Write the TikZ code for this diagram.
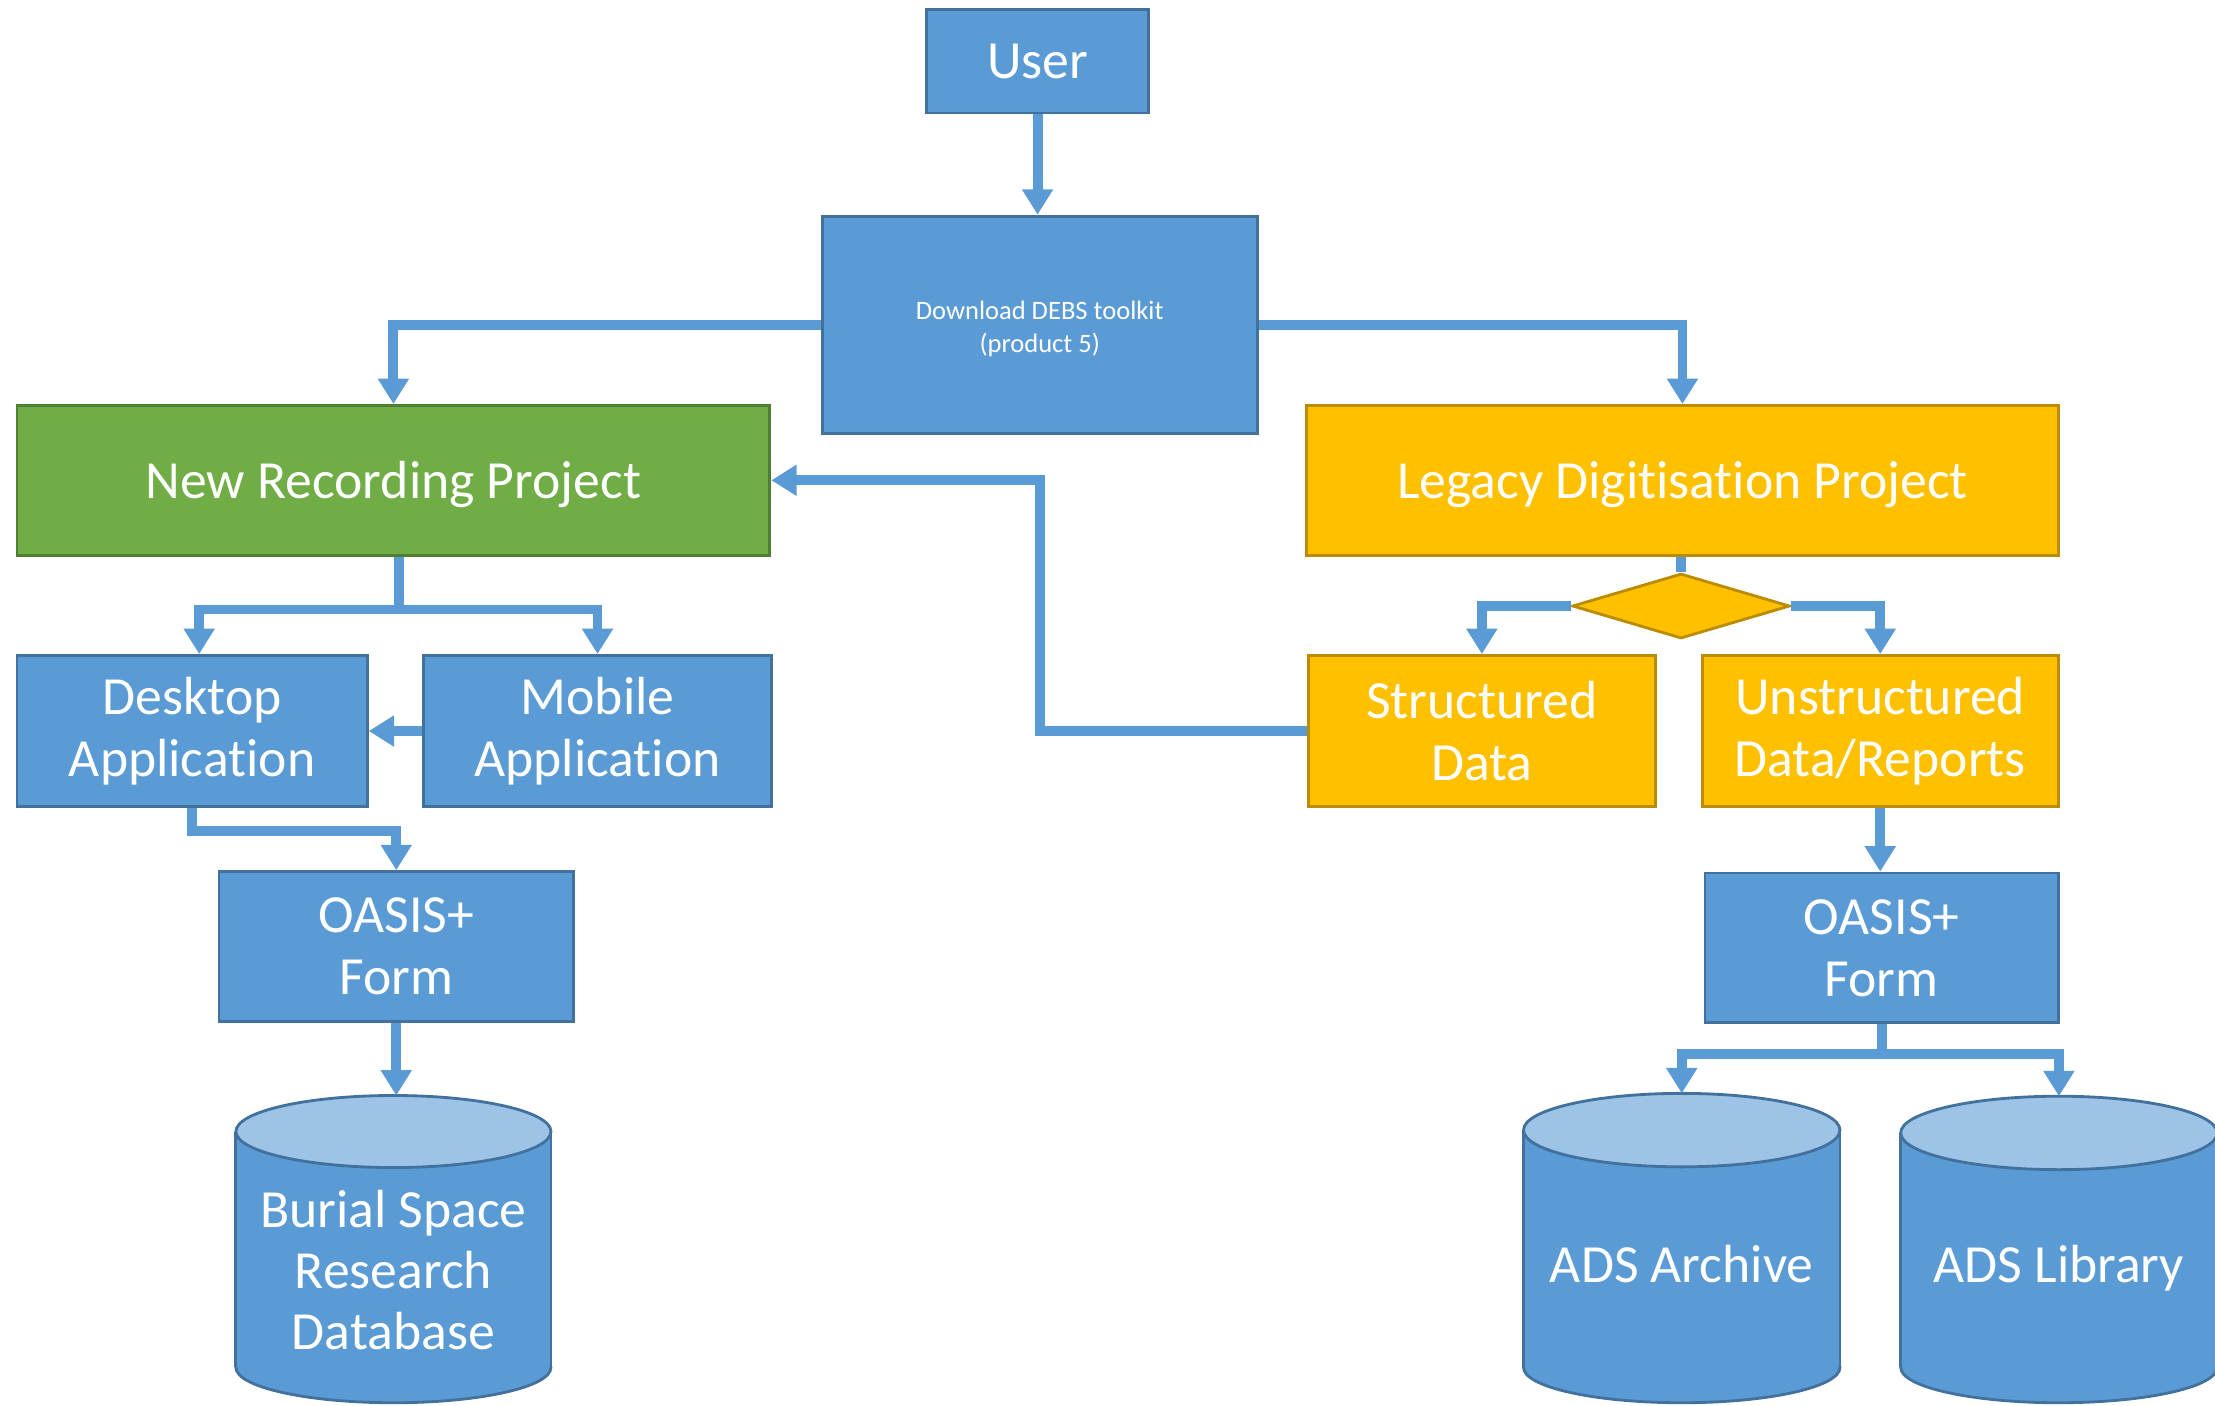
\documentclass[tikz,border=0pt]{standalone}
\usepackage{fontspec}
\setmainfont{Carlito}[Ligatures={NoCommon,NoContextual}]
\usetikzlibrary{arrows.meta,shapes.geometric}
\definecolor{bfill}{HTML}{5B9BD5}
\definecolor{bline}{HTML}{41719C}
\definecolor{gfill}{HTML}{70AD47}
\definecolor{gline}{HTML}{507E32}
\definecolor{yfill}{HTML}{FFC000}
\definecolor{yline}{HTML}{BC8C00}
\definecolor{tfill}{HTML}{9DC3E6}
\newcommand\bigtxt{\fontsize{19}{22}\selectfont}
\begin{document}
\begin{tikzpicture}[x=0.5pt,y=-0.5pt,
  box/.style={rectangle,draw=bline,fill=bfill,line width=1pt,text=white,font=\bigtxt,align=center,inner sep=0pt},
  gbox/.style={box,draw=gline,fill=gfill},
  ybox/.style={box,draw=yline,fill=yfill},
  conn/.style={draw=bfill,line width=3.5pt,-{Triangle[width=10.5pt,length=9pt]}},
  plain/.style={draw=bfill,line width=3.5pt},
  dbfill/.style={fill=bfill,draw=bline,line width=1pt},
  dbtop/.style={fill=tfill,draw=bline,line width=1pt},
  dbtext/.style={text=white,font=\bigtxt,align=center,inner sep=0pt}]
\useasboundingbox (0,0) rectangle (1568,995);

% nodes
\node[box,minimum width=78.5pt,minimum height=36.5pt] (user) at (734.5,43.5) {User};
\node[box,minimum width=154pt,minimum height=77pt,font=\fontsize{9.4}{11.5}\selectfont] (dl) at (736,230) {\raisebox{-3.9pt}[0pt][0pt]{\begin{tabular}{@{}c@{}}Download DEBS toolkit\\[0.3pt](product 5)\end{tabular}}};
\node[gbox,minimum width=266.5pt,minimum height=53pt,text depth=0pt] (nrp) at (278.5,340) {New Recording Project};
\node[ybox,minimum width=266pt,minimum height=53pt,text depth=0pt] (ldp) at (1191,340) {Legacy Digitisation Project};
\node[diamond,draw=yline,fill=yfill,line width=1pt,minimum width=77pt,minimum height=23pt,inner sep=0pt] (dia) at (1190,429) {};
\node[ybox,minimum width=123pt,minimum height=53.5pt] (sd) at (1049,517.5) {Structured\\Data};
\node[ybox,minimum width=126pt,minimum height=53.5pt] (ud) at (1331,517.5) {Unstructured\\Data/Reports};
\node[box,minimum width=124pt,minimum height=53.5pt] (desk) at (136,517.5) {Desktop\\Application};
\node[box,minimum width=123pt,minimum height=53.5pt] (mob) at (423,517.5) {Mobile\\Application};
\node[box,minimum width=125.5pt,minimum height=53pt] (oasl) at (280.5,670) {OASIS+\\Form};
\node[box,minimum width=125pt,minimum height=53pt] (oasr) at (1332,671) {OASIS+\\Form};

% cylinders
% Burial Space
\filldraw[dbfill] (278.5,968) ellipse (55.75pt and 12.5pt);
\fill[bfill] (167,801) rectangle (390,968);
\draw[bline,line width=1pt] (167,801) -- (167,968) (390,801) -- (390,968);
\filldraw[dbtop] (278.5,801) ellipse (55.75pt and 12.75pt);
\coordinate (bsrtop) at (280.5,775.5);
\node[dbtext,font=\fontsize{19}{21.5}\selectfont] (bsr) at (278.5,899) {Burial Space\\Research\\Database};
% ADS Archive
\filldraw[dbfill] (1190.5,968) ellipse (56pt and 12.5pt);
\fill[bfill] (1078.5,800) rectangle (1302.5,968);
\draw[bline,line width=1pt] (1078.5,800) -- (1078.5,968) (1302.5,800) -- (1302.5,968);
\filldraw[dbtop] (1190.5,800) ellipse (56pt and 13pt);
\coordinate (adsatop) at (1190.5,774);
\node[dbtext] (adsa) at (1190.5,895) {ADS Archive};
% ADS Library
\filldraw[dbfill] (1457.5,968) ellipse (56pt and 12.5pt);
\fill[bfill] (1345.5,802) rectangle (1569.5,968);
\draw[bline,line width=1pt] (1345.5,802) -- (1345.5,968) (1569.5,802) -- (1569.5,968);
\filldraw[dbtop] (1457.5,802) ellipse (56pt and 13pt);
\coordinate (adsltop) at (1457.5,776);
\node[dbtext] (adsl) at (1457.5,898) {ADS Library};

% connectors
\draw[conn] (user.south) -- (user.south |- dl.north);
\draw[conn] (dl.west) -| (nrp.north);
\draw[conn] (dl.east) -| (ldp.north);
\draw[plain] (dia.north |- ldp.south) -- (dia.north);
\draw[conn] (dia.west) -| (sd.north);
\draw[conn] (dia.east) -| (ud.north);
\draw[conn] (sd.west) -- (dl.south |- sd.west) -- (dl.south |- nrp.east) -- (nrp.east);
\draw[plain] ([xshift=2pt]nrp.south) -- ++(0,37.5) coordinate (nrpj);
\draw[conn] (nrpj) -| ([xshift=2.5pt]desk.north);
\draw[conn] (nrpj) -| (mob.north);
\draw[conn] (mob.west) -- (desk.east);
\draw[conn] (desk.south) -- ++(0,16) -| (oasl.north);
\draw[conn] (oasl.south) -- (oasl.south |- bsrtop);
\draw[conn] (ud.south) -- (ud.south |- oasr.north);
\draw[plain] (oasr.south) -- ++(0,21) coordinate (oasj);
\draw[conn] (oasj) -| (adsatop);
\draw[conn] (oasj) -| (adsltop);
\end{tikzpicture}
\end{document}
